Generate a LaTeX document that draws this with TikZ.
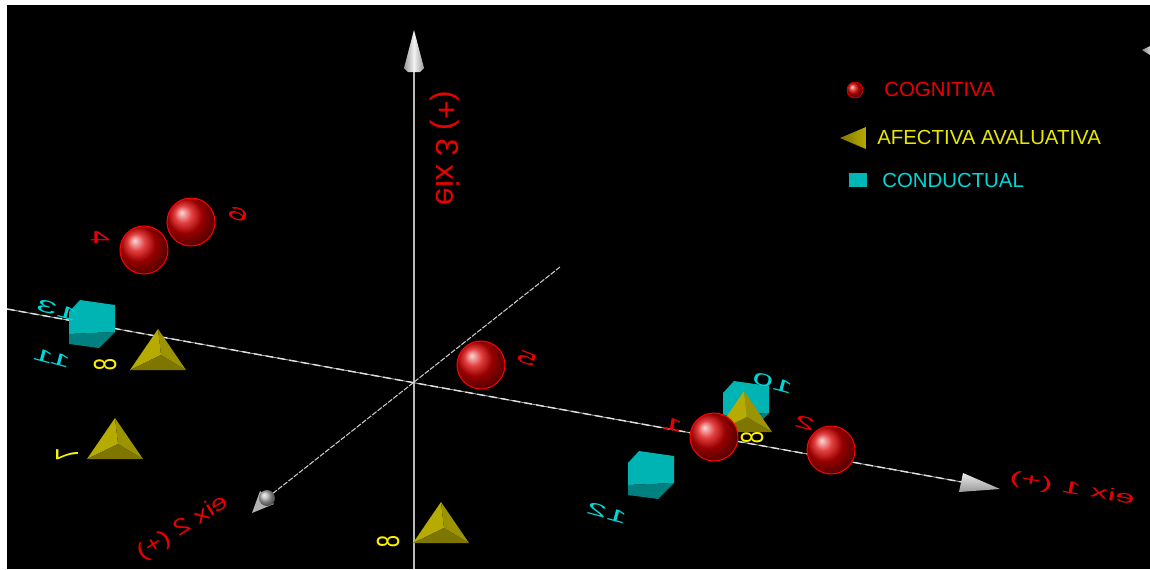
\documentclass[tikz,border=0pt]{standalone}
\usepackage{fontspec}
\setmainfont{Liberation Sans}

\definecolor{cogred}{RGB}{235,0,0}
\definecolor{afeyel}{RGB}{232,232,0}
\definecolor{concyan}{RGB}{0,215,215}
\definecolor{pyrA}{RGB}{182,171,0}
\definecolor{pyrB}{RGB}{156,147,0}
\definecolor{pyrC}{RGB}{126,118,0}
\definecolor{cubeA}{RGB}{0,180,180}
\definecolor{cubeB}{RGB}{0,128,128}

\tikzset{
  vaxis/.style = {draw = gray!55!white, line width = 1.1pt},
  haxis/.style = {draw = gray!25!white, line width = 0.8pt, dash pattern = on 4.5pt off 2.3pt},
  daxis/.style = {draw = gray!40!white, line width = 0.6pt, dash pattern = on 3pt off 0.8pt},
  sphere/.style = {ball color = red!85!black, draw = red, line width = 0.6pt},
  axlab/.style = {inner sep = 0pt, text = cogred, font = \fontsize{18}{18}\selectfont},
  legtext/.style = {inner sep = 0pt, anchor = west, font = \fontsize{11.6}{12}\selectfont},
  lab/.style = {inner sep = 0pt, font = \fontsize{14}{14}\selectfont},
  flat/.style = {xscale = -1.5, yscale = 0.7},
  side/.style = {rotate = 90, xscale = -0.9, yscale = 1.3},
  pyramid/.pic = {
    \fill [pyrA] (0, -41) -- (-28, 0) -- (3, -15) -- cycle;
    \fill [pyrB] (0, -41) -- (3, -15) -- (28, 0) -- cycle;
    \fill [pyrC] (-28, 0) -- (3, -15) -- (28, 0) -- cycle;
  },
  cube/.pic = {
    \fill [cubeA] (-23, -12) -- (-12, -24) -- (23, -19) -- (23, 8) -- (-23, 10) -- cycle;
    \fill [cubeB] (-23, 10) -- (23, 8) -- (7, 24) -- (-23, 20) -- cycle;
  },
}

\begin{document}
\begin{tikzpicture}[x = 0.02cm, y = -0.02cm]
        \useasboundingbox (0, 0) rectangle (1150, 569);
        \fill [white] (0, 0) rectangle (1150, 569);
        \fill [black] (7, 5) rectangle (1150, 569);

        \coordinate (O) at (414, 383);
        \coordinate (x1a) at (7, 309);
        \coordinate (x1b) at (962, 482);
        \coordinate (x1t) at (1000, 489);
        \coordinate (x2a) at (560, 267);
        \coordinate (x2b) at (267, 498);
        \coordinate (x2t) at (252, 513);
        \coordinate (x3a) at (414, 569);
        \coordinate (x3b) at (414, 68);
        \coordinate (x3t) at (414, 30);

        \draw [vaxis] (x3a) -- (x3b);
        \draw [draw = gray!60, line width = 0.5pt] (x1a) -- (x1b);
        \draw [haxis] (x1a) -- (x1b);
        \draw [daxis] (x2a) -- (x2b);

        \shade [left color = gray!80, right color = gray!80, middle color = gray!10] (x3t) -- (424, 68) -- (420, 72) -- (408, 72) -- (404, 68) -- cycle;
        \shade [top color = gray!15, bottom color = gray!80] (x1t) -- (963, 473) -- (959, 492) -- cycle;
        \fill [gray!60] (x2t) -- (260, 491) -- (274, 504) -- cycle;
        \shade [ball color = gray!60] (x2b) circle [radius = 8];
        \shade [left color = gray!90, right color = gray!40] (1142, 50) -- (1150, 46) -- (1150, 55) -- cycle;

        \node [axlab, rotate = -90, xscale = -1] (e3) at (445, 148) {eix 3 (+)};
        \node [axlab, rotate = -10, xscale = -1.1, yscale = 0.55] (e1) at (1072, 489) {eix 1 (+)};
        \node [axlab, rotate = 32, xscale = -0.9, yscale = 0.7] (e2) at (183, 528) {eix 2 (+)};

        \pic (c13) at (92, 324) {cube};
        \pic (c12) at (651, 475) {cube};
        \pic (c10) at (746, 405) {cube};

        \pic (p8a) at (158, 370) {pyramid};
        \pic (p7) at (115, 459) {pyramid};
        \pic (p8b) at (441, 543) {pyramid};
        \pic (p8c) at (744, 432) {pyramid};

        \shadedraw [sphere] (191, 222) circle [radius = 24];
        \shadedraw [sphere] (144, 250) circle [radius = 24];
        \shadedraw [sphere] (481, 365) circle [radius = 24];
        \shadedraw [sphere] (714, 437) circle [radius = 24];
        \shadedraw [sphere] (831, 450) circle [radius = 24];

        \node [lab, text = cogred, flat] (n4) at (100, 238) {4};
        \node [lab, text = cogred, rotate = -20, flat] (n6) at (238, 214) {6};
        \node [lab, text = cogred, rotate = -20, flat] (n5) at (527, 358) {5};
        \node [lab, text = cogred, rotate = -10, flat] (n1) at (673, 425) {1};
        \node [lab, text = cogred, rotate = -15, flat] (n2) at (805, 423) {2};

        \node [lab, text = yellow, side] (n8a) at (105, 365) {8};
        \node [lab, text = yellow, side] (n7) at (67, 455) {7};
        \node [lab, text = yellow, side] (n8b) at (388, 542) {8};
        \node [lab, text = yellow, side] (n8c) at (752, 438) {8};

        \node [lab, text = concyan, rotate = -15, flat] (n13) at (57, 310) {13};
        \node [lab, text = concyan, rotate = -15, flat] (n11) at (52, 358) {11};
        \node [lab, text = concyan, rotate = -15, flat] (n10) at (773, 383) {10};
        \node [lab, text = concyan, rotate = -15, flat] (n12) at (607, 513) {12};

        \shadedraw [sphere, line width = 0.3pt] (855, 90) circle [radius = 8];
        \shade [left color = pyrC, right color = pyrA] (840, 138) -- (866, 127) -- (866, 149) -- cycle;
        \fill [concyan!85!black] (849, 173) rectangle (867, 187);

        \node [legtext, text = cogred] (lcog) at (884, 89) {COGNITIVA};
        \node [legtext, text = afeyel] (lafe) at (877, 137) {AFECTIVA AVALUATIVA};
        \node [legtext, text = concyan] (lcon) at (882, 180) {CONDUCTUAL};
    \end{tikzpicture}
\end{document}
